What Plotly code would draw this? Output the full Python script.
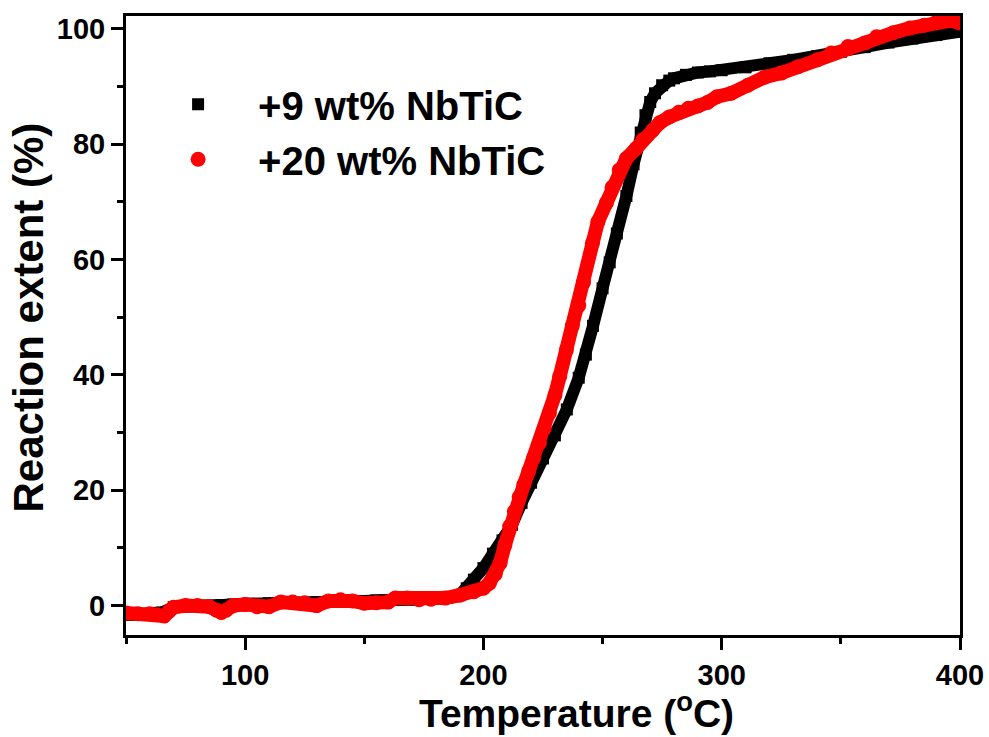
import plotly.graph_objects as go

# ---- data ----
temp_9 = [50, 55, 60, 65, 70, 75, 80, 85, 90, 95, 100, 105, 110, 115, 120, 125, 130, 135, 140, 145,
          150, 155, 160, 165, 170, 175, 180, 185, 190, 193, 196, 200, 204, 208, 212, 216, 220, 225,
          230, 235, 240, 243, 246, 250, 253, 256, 260, 263, 266, 268, 270, 272, 275, 278, 280, 285,
          290, 295, 300, 310, 320, 330, 340, 350, 360, 370, 380, 390, 400]
ext_9 = [-1.6, -1.6, -1.5, -1.2, -0.3, -0.1, 0.0, 0.0, 0.1, 0.2, 0.3, 0.3, 0.4, 0.5, 0.5, 0.5, 0.6,
         0.7, 0.7, 0.8, 0.8, 0.9, 0.9, 1.0, 1.0, 1.1, 1.2, 1.4, 1.8, 3.0, 4.5, 6.5, 9.0, 11.3, 14.0,
         17.8, 21.3, 25.5, 29.5, 34.0, 39.5, 43.5, 48.5, 55.0, 59.5, 64.5, 71.0, 76.5, 82.0, 85.0,
         87.3, 88.8, 90.2, 91.0, 91.4, 92.0, 92.4, 92.6, 92.8, 93.3, 94.0, 94.6, 95.2, 96.0, 96.8,
         97.6, 98.3, 98.9, 99.5]

temp_20 = [50, 55, 60, 63, 66, 68, 70, 75, 80, 85, 88, 90, 92, 95, 100, 105, 110, 115, 120, 125,
           130, 135, 140, 145, 150, 155, 160, 163, 168, 173, 178, 184, 190, 196, 200, 202.5, 205,
           207, 209, 211, 213, 215, 217, 219, 221, 223.5, 225.5, 227.7, 230, 232, 234.8, 237.3, 240,
           242, 245.7, 248, 251.6, 254, 257, 260, 264, 267, 271, 274, 278, 282, 286, 290, 294, 298,
           304, 311, 318, 325, 332, 340, 346, 353, 360, 365, 372, 379, 385, 390, 396, 400]
ext_20 = [-1.3, -1.4, -1.4, -1.6, -1.8, -1.0, -0.3, 0.0, 0.0, -0.2, -0.8, -1.2, -0.8, 0.0, 0.2,
          -0.2, -0.2, 0.6, 0.6, 0.5, 0.0, 0.8, 1.0, 0.8, 0.4, 0.5, 0.6, 1.3, 1.3, 1.0, 1.1, 1.3,
          1.8, 2.4, 3.0, 3.9, 5.5, 7.4, 10.5, 13.7, 16.3, 18.8, 21.0, 23.3, 25.5, 28.2, 30.7, 33.4,
          36.5, 39.7, 44.3, 48.5, 52.0, 56.0, 62.8, 66.5, 69.8, 72.5, 75.5, 77.5, 79.2, 80.8, 82.4,
          83.7, 84.7, 85.5, 86.2, 86.6, 87.2, 88.2, 88.8, 90.2, 91.6, 92.3, 93.4, 94.6, 95.8, 96.9,
          97.5, 98.6, 99.3, 100.1, 100.6, 101.1, 101.4, 101.0]

names = ["+9 wt% NbTiC", "+20 wt% NbTiC"]
colors = ["#000000", "#ff0000"]

FONT = "Liberation Sans, Arial, sans-serif"

fig = go.Figure()
# thick connecting bands (under markers)
fig.add_trace(go.Scatter(x=temp_9, y=ext_9, mode="lines", line=dict(color=colors[0], width=12),
                         showlegend=False, hoverinfo="skip"))
fig.add_trace(go.Scatter(x=temp_9, y=ext_9, mode="markers", name=names[0],
                         marker=dict(symbol="square", size=12, color=colors[0]), legendgroup="a"))
fig.add_trace(go.Scatter(x=temp_20, y=ext_20, mode="lines", line=dict(color=colors[1], width=14),
                         showlegend=False, hoverinfo="skip"))
fig.add_trace(go.Scatter(x=temp_20, y=ext_20, mode="markers", name=names[1],
                         marker=dict(symbol="circle", size=15, color=colors[1]), legendgroup="b"))

axis_common = dict(
    showline=True, linewidth=3, linecolor="black", mirror=True,
    ticks="outside", ticklen=12, tickwidth=3, tickcolor="black",
    showgrid=False, zeroline=False, automargin=False,
    tickfont=dict(family=FONT, size=29, color="black", weight="bold"),
)

fig.update_xaxes(range=[50, 400], tick0=0, dtick=100,
                 minor=dict(ticks="outside", ticklen=6, tickwidth=3, dtick=50, tick0=0, tickcolor="black"),
                 **axis_common)
fig.update_yaxes(range=[-5.1, 102.2], tick0=0, dtick=20,
                 minor=dict(ticks="outside", ticklen=6, tickwidth=3, dtick=10, tick0=0, tickcolor="black"),
                 **axis_common)

fig.update_layout(
    width=989, height=737,
    margin=dict(l=126, r=29, t=16, b=102),
    paper_bgcolor="white", plot_bgcolor="white",
    showlegend=True,
    legend=dict(x=0.0145, y=0.91, xanchor="left", yanchor="top", bgcolor="rgba(0,0,0,0)",
                font=dict(family=FONT, size=40, color="black", weight="bold"),
                itemwidth=110, tracegroupgap=0),
    annotations=[
        dict(text="Temperature (<sup>o</sup>C)", xref="paper", yref="paper", x=0.54, y=-0.122,
             xanchor="center", yanchor="middle", showarrow=False,
             font=dict(family=FONT, size=39, color="black", weight="bold")),
        dict(text="Reaction extent (%)", xref="paper", yref="paper", x=-0.1175, y=0.513,
             xanchor="center", yanchor="middle", showarrow=False, textangle=-90,
             font=dict(family=FONT, size=42, color="black", weight="bold")),
    ],
)

fig.write_html("out.html")
